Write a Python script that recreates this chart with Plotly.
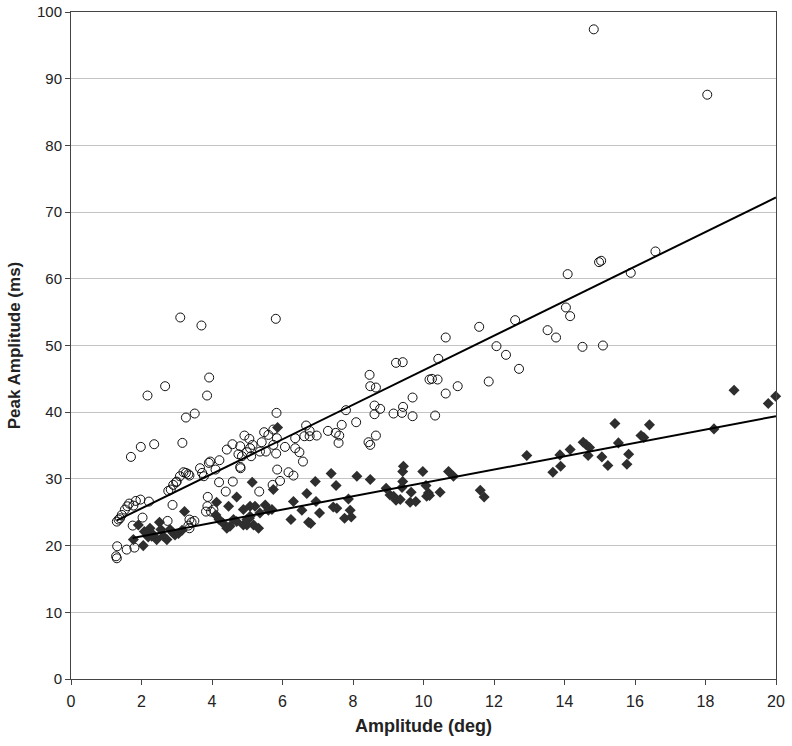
import plotly.graph_objects as go

# Open circles series
circ_x = [14.83, 18.05, 3.10, 3.70, 5.81, 3.92, 3.86, 2.67, 2.17, 3.26, 3.51, 5.83, 3.16, 1.98, 2.36, 1.70,
          16.58, 14.98, 15.04, 14.09, 15.88, 14.04, 14.16, 12.60, 13.52, 13.76, 14.51, 15.09, 12.07, 12.34, 12.71,
          11.58, 10.63, 10.42, 9.22, 9.41, 8.47, 8.49, 8.65, 10.17, 10.24, 10.40, 10.63, 10.97, 11.85, 9.69, 8.61,
          8.77, 8.61, 7.80, 9.15, 9.42, 9.39, 9.69, 10.33, 8.09, 7.68, 7.29, 7.51, 7.61, 7.59, 8.44, 8.49, 8.65,
          6.67, 6.77, 6.62, 6.77, 6.97, 6.36, 6.07, 6.36, 6.48, 6.58, 6.17, 6.31, 5.93, 5.85, 5.72, 5.34, 5.82,
          5.48, 5.60, 5.74, 5.74, 5.84, 5.36, 5.11, 5.06, 5.15, 5.08, 4.81, 4.42, 4.58, 4.80, 4.92, 4.75, 4.85,
          4.99, 4.21, 4.80, 4.59, 4.39, 4.20, 5.53, 5.41,
          3.91, 3.95, 4.10, 3.66, 3.19, 3.26, 3.33, 3.09, 3.36, 3.72, 3.77, 2.98, 2.90, 2.76, 2.83, 3.00, 2.21,
          1.97, 1.84, 1.77, 1.65, 1.60, 1.53, 1.44, 1.39, 1.35, 1.30, 2.88, 2.03, 1.75, 2.74, 3.36, 3.42, 3.50,
          3.33, 3.36, 3.88, 3.87, 3.83, 3.97, 4.04, 1.31, 1.58, 1.28, 1.30, 1.80]
circ_y = [97.4, 87.6, 54.2, 53.0, 54.0, 45.2, 42.5, 43.9, 42.5, 39.2, 39.8, 39.9, 35.4, 34.8, 35.2, 33.3,
          64.1, 62.5, 62.7, 60.7, 60.9, 55.7, 54.4, 53.8, 52.3, 51.2, 49.8, 50.0, 49.9, 48.6, 46.5,
          52.8, 51.2, 48.0, 47.4, 47.5, 45.6, 43.9, 43.7, 44.9, 45.0, 44.9, 42.8, 43.9, 44.6, 42.2, 41.0,
          40.5, 39.7, 40.3, 39.8, 40.8, 39.9, 39.4, 39.5, 38.5, 38.1, 37.2, 36.9, 36.5, 35.4, 35.5, 35.1, 36.5,
          38.0, 37.2, 36.4, 36.4, 36.5, 36.1, 34.8, 34.6, 34.0, 32.6, 31.0, 30.5, 29.7, 31.4, 29.1, 28.1, 33.8,
          37.0, 36.6, 37.4, 35.1, 36.1, 34.1, 33.4, 36.0, 35.1, 34.6, 31.6, 34.4, 35.2, 34.9, 36.5, 33.7, 33.4,
          34.0, 32.8, 31.8, 29.6, 28.1, 29.5, 34.1, 35.5,
          32.4, 32.6, 31.4, 31.6, 31.0, 30.9, 30.7, 30.4, 30.5, 30.9, 30.4, 29.5, 29.1, 28.2, 28.4, 29.6, 26.6,
          26.9, 26.7, 26.0, 26.3, 25.9, 25.4, 24.6, 24.1, 23.9, 23.6, 26.1, 24.2, 23.0, 23.7, 23.9, 23.5, 23.7,
          23.0, 22.6, 27.3, 25.9, 25.1, 25.1, 25.4, 19.9, 19.4, 18.4, 18.1, 19.7]

# Filled diamonds series
diam_x = [1.77, 2.05, 1.91, 2.08, 2.24, 2.34, 2.51, 2.55, 2.62, 2.43, 2.19, 2.81, 2.72, 2.90, 2.29, 2.13, 2.95,
          3.05, 3.15,
          3.22, 4.13, 4.47, 4.70, 4.11, 4.20, 4.31, 4.42, 4.51, 4.61, 4.70, 4.89, 4.99, 5.06, 5.08, 5.22, 5.36,
          5.51, 5.70, 4.99, 5.18, 5.32, 4.89, 5.08, 5.14, 5.74, 5.86, 5.60,
          6.24, 6.74, 6.80, 6.55, 6.31, 6.69, 6.93, 6.95, 7.05, 7.38, 7.52, 7.44, 7.54, 7.76, 7.95, 7.92, 7.87,
          8.11, 8.49, 8.94, 9.05, 9.15, 9.22, 9.34, 9.39, 9.41, 9.43, 9.41, 9.65, 9.62, 9.78, 9.98, 10.07, 10.14,
          10.09, 10.17, 10.47, 10.71, 10.85, 11.61, 11.72,
          12.93, 13.87, 13.89, 13.67, 14.16, 14.53, 14.62, 14.71, 14.67, 15.06, 15.82, 15.23, 15.77, 15.53,
          15.43, 16.41, 16.17, 16.25, 18.24, 18.81, 19.78, 19.99]
diam_y = [20.9, 20.0, 23.1, 22.1, 22.6, 21.6, 23.5, 22.4, 21.4, 20.9, 21.3, 22.4, 20.9, 21.9, 21.4, 21.9, 21.6,
          21.8, 22.3,
          25.1, 26.5, 25.9, 27.3, 24.6, 23.9, 23.4, 22.6, 22.9, 23.9, 23.6, 25.4, 23.1, 24.1, 25.9, 25.9, 24.9,
          26.1, 25.4, 23.9, 23.1, 22.6, 23.1, 24.4, 29.5, 28.4, 37.7, 25.3,
          23.9, 23.5, 23.3, 25.3, 26.6, 27.8, 29.6, 26.6, 24.9, 30.8, 29.0, 25.8, 25.6, 24.1, 24.3, 25.3, 27.0,
          30.4, 29.9, 28.6, 27.6, 27.4, 26.8, 26.9, 28.7, 29.6, 31.9, 31.1, 28.0, 26.5, 26.6, 31.1, 29.0, 27.9,
          27.4, 27.5, 28.0, 31.1, 30.4, 28.3, 27.3,
          33.5, 33.6, 31.9, 31.0, 34.4, 35.5, 35.1, 34.7, 33.5, 33.3, 33.7, 32.0, 32.2, 35.4,
          38.3, 38.1, 36.5, 36.2, 37.5, 43.3, 41.3, 42.4]

# Linear trend lines: y = intercept + slope * x
circ_trend = {"intercept": 20.4, "slope": 2.59, "x_range": [1.3, 20.0]}
diam_trend = {"intercept": 19.4, "slope": 1.0, "x_range": [1.75, 20.0]}

x_ticks = list(range(0, 21, 2))
y_ticks = list(range(0, 101, 10))

fig = go.Figure()
fig.add_trace(go.Scatter(
    x=circ_x, y=circ_y, mode="markers",
    marker=dict(symbol="circle-open", size=9, color="#111111", line=dict(width=1, color="#111111")),
    showlegend=False, cliponaxis=False))
fig.add_trace(go.Scatter(
    x=diam_x, y=diam_y, mode="markers",
    marker=dict(symbol="diamond", size=8.5, color="#2e2e2e", line=dict(width=0)),
    showlegend=False, cliponaxis=False))
for t in (circ_trend, diam_trend):
    xs = t["x_range"]
    ys = [t["intercept"] + t["slope"] * v for v in xs]
    fig.add_trace(go.Scatter(x=xs, y=ys, mode="lines",
                             line=dict(color="#000000", width=2), showlegend=False))

fig.update_layout(
    width=792, height=746,
    margin=dict(l=71, r=16, t=12, b=67, autoexpand=False),
    paper_bgcolor="white", plot_bgcolor="white",
    font=dict(family="Liberation Sans, Arial, sans-serif", color="#222222", size=14),
)
fig.update_xaxes(
    range=[0, 20], tickvals=x_ticks, ticktext=[str(v) for v in x_ticks],
    showgrid=False, zeroline=False, automargin=False,
    showline=True, linecolor="#444444", linewidth=1, mirror=True,
    ticks="outside", ticklen=5, tickcolor="#444444", ticklabelstandoff=3,
    tickfont=dict(family="Liberation Sans Narrow, Liberation Sans, Arial", size=16),
    title=dict(text="<b>Amplitude (deg)</b>",
               font=dict(family="Liberation Sans Narrow, Liberation Sans, Arial", size=18), standoff=10),
)
fig.update_yaxes(
    range=[0, 100], tickvals=y_ticks, ticktext=[str(v) for v in y_ticks],
    showgrid=True, gridcolor="#c4c4c4", gridwidth=1, zeroline=False, automargin=False,
    showline=True, linecolor="#444444", linewidth=1, mirror=True,
    ticks="outside", ticklen=5, tickcolor="#444444",
    tickfont=dict(size=15),
    title=dict(text="<b>Peak Amplitude (ms)</b>", font=dict(size=17), standoff=12),
)

fig.write_html("out.html", config={"displayModeBar": False},
               post_script="document.body.style.margin='0';document.body.style.padding='0';")
